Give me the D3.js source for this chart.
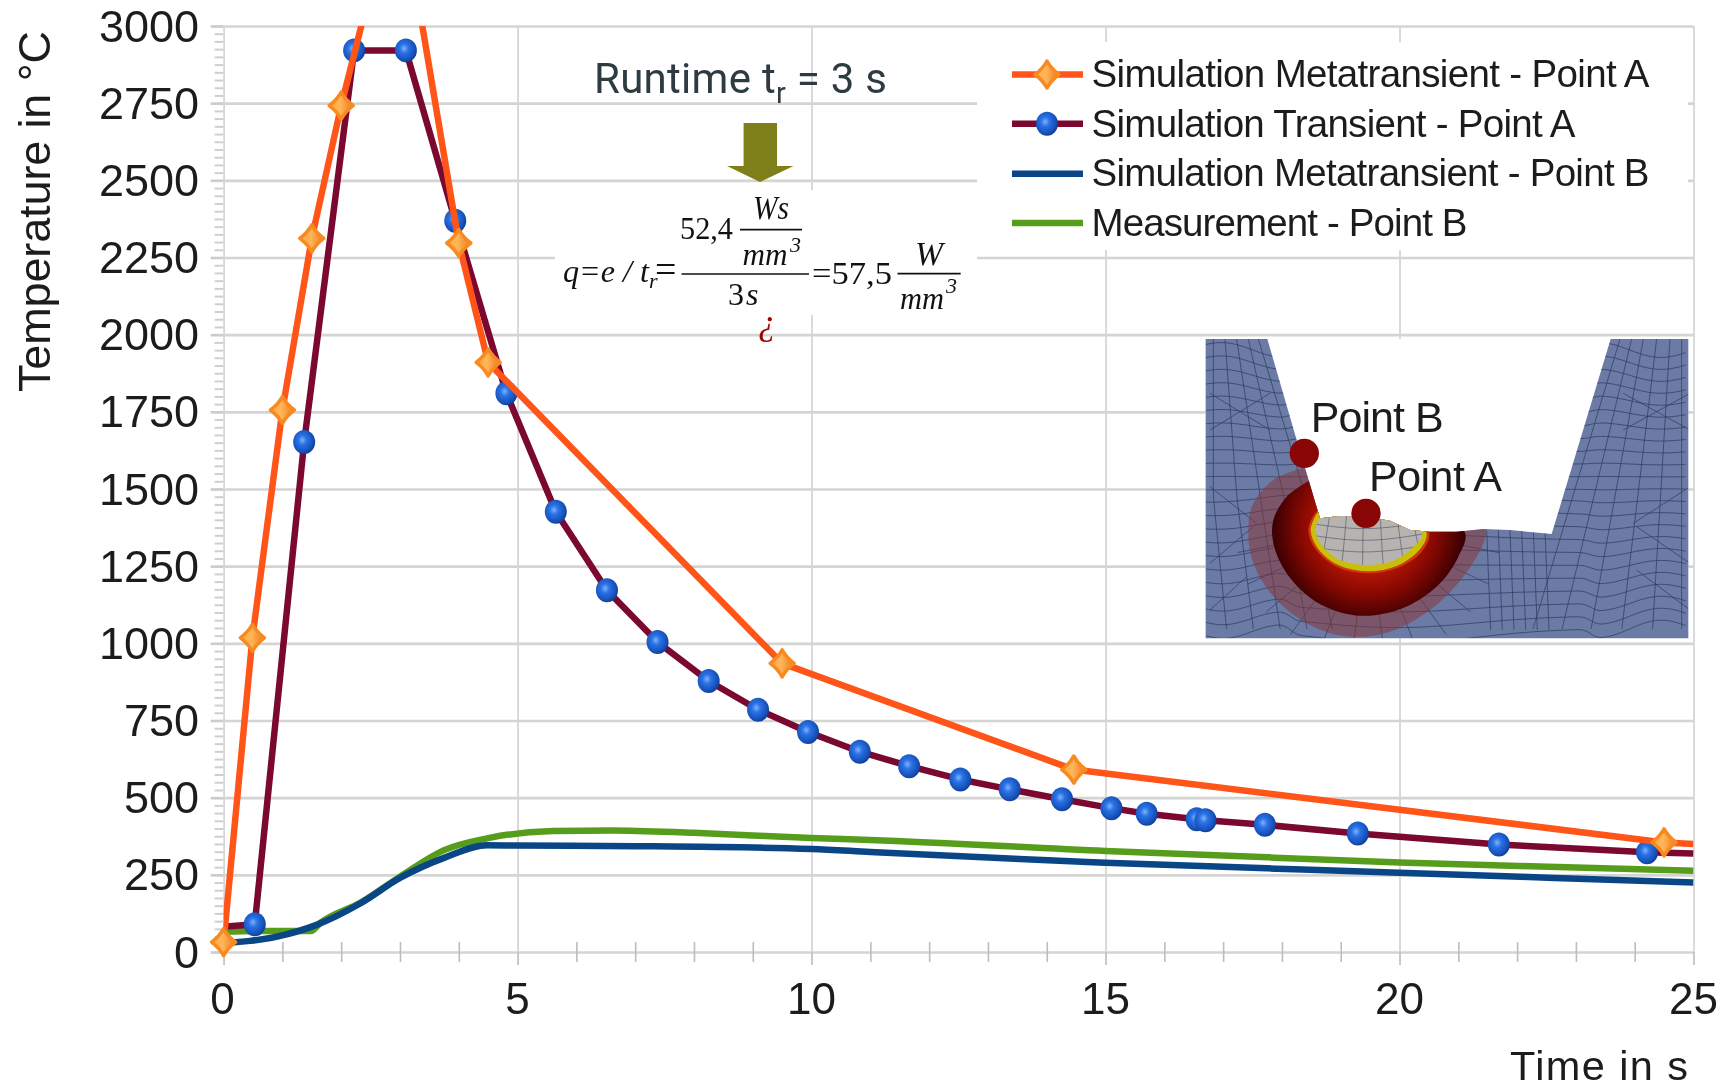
<!DOCTYPE html>
<html><head><meta charset="utf-8">
<script src="https://d3js.org/d3.v7.min.js"></script>
<style>
html,body{margin:0;padding:0;background:#fff}
svg{display:block;filter:blur(0.55px)}
text{font-family:"Liberation Sans",sans-serif;fill:#1c1c1c}
.f{font-family:"Liberation Serif",serif;font-size:32px;fill:#111}
.i{font-style:italic}
</style></head><body>
<svg id="c" width="1732" height="1089"></svg>
<script>
const xTicks=[0,5,10,15,20,25];
const xMinor=[1,2,3,4,6,7,8,9,11,12,13,14,16,17,18,19,21,22,23,24];
const yTicks=[0,250,500,750,1000,1250,1500,1750,2000,2250,2500,2750,3000];
const yMinor=[];for(let v=0;v<=3000;v+=25)yMinor.push(v);
const metaAT=[0,0.49,1.0,1.5,2.0,2.5,3.0,4.0,4.5,9.5,14.46,24.5,25];
const metaAV=[32,1018,1756,2312,2742,3120,3431,2297,1910,935,591,355,350];
const transAT=[0,0.53,1.37,2.22,3.1,3.94,4.81,5.65,6.52,7.38,8.25,9.09,9.94,10.82,11.66,12.53,13.37,14.26,15.1,15.7,16.55,16.7,17.71,19.29,21.69,24.21,25];
const transAV=[82,90,1652,2921,2921,2369,1810,1426,1172,1004,878,785,713,649,602,559,527,495,466,448,430,427,412,384,348,323,319];
const metaBT=[0,0.45,0.91,1.57,2.33,3,3.75,4.48,5,7,10,11,14.5,15,20,25];
const metaBV=[29,36,50,87,158,240,305,346,345,343,334,324,293,289,257,225];
const measT=[0,0.7,1.48,1.65,2.33,3,3.75,4.5,5.6,6.6,8,10,11,15,20,25];
const measV=[66,68,68,95,160,244,330,369,392,394,386,369,363,327,290,263];
const legendNames=["Simulation Metatransient - Point A","Simulation Transient - Point A","Simulation Metatransient - Point B","Measurement - Point B"];
const colours={orange:"#ff5518",maroon:"#7a0830",blue:"#0a4686",green:"#579d1c"};

const svg=d3.select("#c");
const x=d3.scaleLinear().domain([0,25]).range([223.6,1693.5]);
const y=d3.scaleLinear().domain([0,3000]).range([952,26]);
const defs=svg.append("defs");
const zip=(t,v)=>t.map((d,i)=>({t:d,v:v[i]}));

const gb=defs.append("radialGradient").attr("id","ball").attr("cx","0.42").attr("cy","0.42").attr("r","0.65");
[[0,"#7fb2fa"],[0.3,"#2a72e6"],[0.75,"#1650b8"],[1,"#0b3685"]].forEach(s=>gb.append("stop").attr("offset",s[0]).attr("stop-color",s[1]));
const go=defs.append("linearGradient").attr("id","dia").attr("x1","0").attr("x2","1").attr("y1","0").attr("y2","0");
[[0,"#ffa93f"],[0.45,"#ffb65a"],[1,"#f0781a"]].forEach(s=>go.append("stop").attr("offset",s[0]).attr("stop-color",s[1]));
const gd=defs.append("radialGradient").attr("id","pool").attr("gradientUnits","userSpaceOnUse").attr("cx",535).attr("cy",590).attr("r",285);
[[0.5,"#b01404"],[0.72,"#860802"],[1,"#3c0002"]].forEach(s=>gd.append("stop").attr("offset",s[0]).attr("stop-color",s[1]));
defs.append("clipPath").attr("id","plot").append("rect").attr("x",190).attr("y",26).attr("width",1530).attr("height",960);
defs.append("clipPath").attr("id","lines").append("rect").attr("x",x(0)).attr("y",26).attr("width",x(25)-x(0)).attr("height",950);

// grid and ticks built with d3 axes
const grid=svg.append("g");
grid.append("g").attr("transform",`translate(${x(0)},0)`)
 .call(d3.axisLeft(y).tickValues(yMinor).tickSize(9).tickFormat(""))
 .call(g=>{g.select(".domain").remove();g.selectAll("line").attr("stroke","#cfcfcf").attr("stroke-width",2)});
grid.append("g").attr("transform",`translate(${x(0)},0)`)
 .call(d3.axisLeft(y).tickValues(yTicks).tickSizeInner(-(x(25)-x(0))).tickSizeOuter(0).tickFormat(""))
 .call(g=>{g.select(".domain").remove();g.selectAll("line").attr("stroke","#d4d4d4").attr("stroke-width",2.6).attr("x2",x(25)-x(0))});
grid.append("g").attr("transform",`translate(${x(0)},0)`)
 .call(d3.axisLeft(y).tickValues(yTicks).tickSize(13).tickFormat(""))
 .call(g=>{g.select(".domain").remove();g.selectAll("line").attr("stroke","#cccccc").attr("stroke-width",2.6)});
grid.append("g").attr("transform",`translate(0,${y(0)})`)
 .call(d3.axisTop(x).tickValues(xTicks).tickSizeInner(y(0)-y(3000)).tickSizeOuter(0).tickFormat(""))
 .call(g=>{g.select(".domain").remove();g.selectAll("line").attr("stroke","#d6d6d6").attr("stroke-width",1.8)});
grid.append("g").attr("transform",`translate(0,${y(0)})`)
 .call(d3.axisBottom(x).tickValues(xTicks).tickSize(13).tickFormat(""))
 .call(g=>{g.select(".domain").remove();g.selectAll("line").attr("stroke","#c4c4c4").attr("stroke-width",1.8)});
grid.append("g").attr("transform",`translate(0,${y(0)})`)
 .call(d3.axisBottom(x).tickValues(xMinor).tickSize(10).tickFormat(""))
 .call(g=>{g.select(".domain").remove();g.selectAll("line").attr("stroke","#bdbdbd").attr("stroke-width",1.6).attr("y1",-10)});

// white boxes that sit on the grid
svg.append("rect").attr("x",977).attr("y",42).attr("width",711).attr("height",208).attr("fill","#fff");
svg.append("rect").attr("x",555).attr("y",190).attr("width",422).attr("height",125).attr("fill","#fff");

// tick labels
svg.append("g").selectAll("text").data(yTicks).join("text").attr("x",199).attr("y",d=>y(d)+15.5)
 .attr("text-anchor","end").attr("font-size",45).text(d=>d);
svg.append("g").selectAll("text").data(xTicks).join("text").attr("x",d=>x(d)-(d==0?1:0)).attr("y",1014)
 .attr("text-anchor","middle").attr("font-size",44).text(d=>d);
svg.append("text").attr("transform","translate(50,392) rotate(-90)").attr("font-size",45).attr("textLength",361).attr("lengthAdjust","spacing").text("Temperature in °C");
svg.append("text").attr("x",1510).attr("y",1080).attr("font-size",41.5).attr("textLength",178).attr("lengthAdjust","spacing").text("Time in s");

// series
const line=d3.line().x(d=>x(d.t)).y(d=>y(d.v));
const lineSmooth=d3.line().x(d=>x(d.t)).y(d=>y(d.v)).curve(d3.curveMonotoneX);
const lg=svg.append("g").attr("clip-path","url(#lines)").attr("fill","none").attr("stroke-linejoin","round");
lg.append("path").attr("d",lineSmooth(zip(measT,measV))).attr("stroke",colours.green).attr("stroke-width",6.5);
lg.append("path").attr("d",lineSmooth(zip(metaBT,metaBV))).attr("stroke",colours.blue).attr("stroke-width",6.5);
lg.append("path").attr("d",line(zip(transAT,transAV))).attr("stroke",colours.maroon).attr("stroke-width",6.5);
const ballG=svg.append("g");
function ball(g,cx,cy){g.append("ellipse").attr("cx",cx).attr("cy",cy).attr("rx",11).attr("ry",12).attr("fill","url(#ball)");}
const diaPath="M0,-13.5 Q4,-6 12,0 Q4,6 0,13.5 Q-4,6 -12,0 Q-4,-6 0,-13.5Z";
function dia(g,cx,cy){g.append("path").attr("d",diaPath).attr("transform",`translate(${cx},${cy})`).attr("fill","url(#dia)").attr("stroke","#f88a22").attr("stroke-width",3.5).attr("stroke-linejoin","round");}
zip(transAT,transAV).slice(1,-1).forEach(d=>ball(ballG,x(d.t),y(d.v)));
svg.append("g").attr("clip-path","url(#lines)").append("path").attr("d",line(zip(metaAT,metaAV))).attr("fill","none").attr("stroke",colours.orange).attr("stroke-width",6.5).attr("stroke-linejoin","round");
const diaTop=svg.append("g").attr("clip-path","url(#plot)");
zip(metaAT,metaAV).slice(0,-1).filter(d=>d.v<=3000).forEach(d=>dia(diaTop,x(d.t),y(d.v)));

// legend
const legY=[74.5,123.7,173.8,223], legB=[87,136.5,186,235.7], legW=[558,484,558,376];
const legCol=[colours.orange,colours.maroon,colours.blue,colours.green];
legendNames.forEach((n,i)=>{
 svg.append("line").attr("x1",1012).attr("x2",1083).attr("y1",legY[i]).attr("y2",legY[i]).attr("stroke",legCol[i]).attr("stroke-width",6.5);
 if(i==0)dia(svg,1047,legY[i]);
 if(i==1)ball(svg,1047,legY[i]);
 svg.append("text").attr("x",1091.5).attr("y",legB[i]).attr("font-size",38.5).attr("textLength",legW[i]).attr("lengthAdjust","spacing").text(n);
});

// runtime note and arrow
const rt=svg.append("text").attr("x",594).attr("y",93).attr("font-size",42).attr("textLength",293).attr("lengthAdjust","spacing").style("font-family","Roboto").style("fill","#2e3b40");
rt.append("tspan").text("Runtime t");
rt.append("tspan").attr("dy",10).attr("font-size",29).text("r");
rt.append("tspan").attr("dy",-10).text(" = 3 s");
svg.append("path").attr("d","M743.6,123 H777 V166 H793.5 L760,182 L727,166 H743.6Z").attr("fill","#7f7f1a");

// formula
function ft(xp,yp,s,it,size,col){const t=svg.append("text").attr("class","f"+(it?" i":"")).attr("x",xp).attr("y",yp).text(s);if(size)t.style("font-size",size+"px");if(col)t.style("fill",col);return t;}
ft(563,282,"q=e / t",true).attr("textLength",86).attr("lengthAdjust","spacingAndGlyphs");
ft(649,288,"r",true,22);
ft(655,282,"=",false,38);
ft(680,238.6,"52,4",false).attr("textLength",53).attr("lengthAdjust","spacingAndGlyphs");
ft(753,218.6,"Ws",true,34).attr("textLength",36).attr("lengthAdjust","spacingAndGlyphs");
ft(742.5,265,"mm",true).attr("textLength",45).attr("lengthAdjust","spacingAndGlyphs");
ft(790,252,"3",true,22);
ft(728,305,"3",false,32);ft(746,305,"s",true,32);
ft(812,284,"=57,5",false).attr("textLength",80).attr("lengthAdjust","spacingAndGlyphs");
ft(915,265,"W",true,34).attr("textLength",28).attr("lengthAdjust","spacingAndGlyphs");
ft(900,308.5,"mm",true).attr("textLength",44).attr("lengthAdjust","spacingAndGlyphs");
ft(946,292.5,"3",true,22);
ft(758,334,"¿",true,36,"#a00000");
[[740,802,229.6],[681.5,809,274],[897.5,960.7,273.6]].forEach(b=>svg.append("line").attr("x1",b[0]).attr("x2",b[1]).attr("y1",b[2]).attr("y2",b[2]).attr("stroke","#111").attr("stroke-width",1.7));

// inset: finite element section (local coordinates, 3 units = 1 pixel)
const ins=svg.append("g").attr("transform","translate(1190,330) scale(0.33333)");
ins.append("rect").attr("x",47).attr("y",27).attr("width",1448).attr("height",898).attr("fill","#fff");
const metal=[[47,27],[232,27],[320,330],[390,565],[450,558],[530,560],[600,572],[660,600],[720,605],[800,605],[880,597],[960,600],[1085,612],[1262,27],[1495,27],[1495,925],[47,925]];
const poly=d3.line();
ins.append("path").attr("d",poly(metal)+"Z").attr("fill","#6b7ba5");
const cl=(id,d)=>{defs.append("clipPath").attr("id",id).append("path").attr("d",d);};
cl("metalL",poly(metal)+"Z");
const mesh=ins.append("g").attr("clip-path","url(#metalL)").attr("fill","none").attr("stroke","#2f3c60").attr("stroke-width",2.2);
const curve=d3.line().curve(d3.curveBasis);
function hLine(v){const pts=[];for(let px=47;px<=1495;px+=30){const s=Math.exp(-Math.pow((px-620)/330,2));pts.push([px,v+(v>500?(925-v)*(-0.12)*s+s*(v-500)*0.12:0)+((px<300||px>1200)?(v-450)*0.06*Math.sin(px/60):0)]);}return curve(pts);}
d3.range(60,925,38).forEach(v=>mesh.append("path").attr("d",hLine(v)));
[70,105,140,175,205].forEach((u,i)=>{const p=[];for(let py=27;py<=925;py+=30){p.push([u+(py-27)*0.30*(i/4)+(py>500?(py-500)*0.05*(2-i):0),py]);}mesh.append("path").attr("d",curve(p));});
[1290,1325,1360,1400,1440,1475].forEach((u,i)=>{const p=[];for(let py=27;py<=925;py+=30){p.push([u-(py-27)*0.30*(1-i/5),py]);}mesh.append("path").attr("d",curve(p));});
[890,925,960,995,1030,1065].forEach(u=>{const p=[];for(let py=600;py<=925;py+=30){p.push([u+(py-600)*0.04,py]);}mesh.append("path").attr("d",curve(p));});
[[60,190,240,300],[60,300,240,190],[1500,190,1300,300],[1500,300,1300,190],[60,470,200,580],[60,700,190,590],[60,840,170,740],[1500,470,1330,580],[1500,700,1340,590],[1500,840,1340,720]].forEach(s=>mesh.append("line").attr("x1",s[0]).attr("y1",s[1]).attr("x2",s[2]).attr("y2",s[3]));
[240,290,340,390,440,490,540,590,640,690,740,790].forEach(u=>{const ang=(u-515)/300;const p=[];for(let r=260;r<=400;r+=20){p.push([535+r*Math.sin(ang*1.5),590+r*Math.cos(ang*1.5)]);}mesh.append("path").attr("d",curve(p));});
const shape=pts=>d3.line().curve(d3.curveCatmullRom)(pts);
const inside=ins.append("g").attr("clip-path","url(#metalL)");
inside.append("path").attr("d",shape([[335,415],[250,450],[190,520],[175,590],[190,700],[260,810],[370,890],[480,920],[600,905],[720,840],[820,740],[880,640],[885,597],[700,500],[450,400],[335,415]])).attr("fill","rgba(140,50,50,0.5)");
inside.append("path").attr("d",shape([[352,455],[290,500],[250,570],[250,640],[290,730],[370,810],[470,852],[560,855],[660,825],[750,760],[805,680],[825,608],[700,520],[450,420],[352,455]])).attr("fill","url(#pool)");
inside.append("path").attr("d",shape([[368,560],[355,600],[375,655],[440,710],[530,730],[620,715],[695,665],[718,610],[650,500],[450,480],[368,560]])).attr("fill","#d03a08");
inside.append("path").attr("d",shape([[375,560],[362,600],[380,650],[440,703],[530,724],[620,708],[690,658],[710,610],[650,500],[450,480],[375,560]])).attr("fill","#c9bf0a");
const grayPts=[[388,565],[376,600],[395,645],[450,690],[530,705],[610,692],[670,650],[697,615],[640,500],[450,490],[388,565]];
inside.append("path").attr("d",shape(grayPts)).attr("fill","#b7b3b1");
cl("grayC",shape(grayPts));
const gm=inside.append("g").attr("clip-path","url(#grayC)").attr("stroke","#555a66").attr("stroke-width",2).attr("fill","none");
[600,635,670].forEach(v=>gm.append("path").attr("d",curve([[360,v-20],[530,v+5],[710,v-25]])));
[420,470,520,570,620,665].forEach(u=>gm.append("path").attr("d",curve([[u,550],[u+(u-530)*0.1,620],[u+(u-530)*0.25,710]])));
[[343,370],[528,550]].forEach(c=>ins.append("circle").attr("cx",c[0]).attr("cy",c[1]).attr("r",44).attr("fill","#8a0505"));
svg.append("text").attr("x",1310.7).attr("y",431.7).attr("font-size",43).attr("textLength",133).attr("lengthAdjust","spacing").text("Point B");
svg.append("text").attr("x",1369).attr("y",490.7).attr("font-size",43).attr("textLength",133).attr("lengthAdjust","spacing").text("Point A");
</script></body></html>
